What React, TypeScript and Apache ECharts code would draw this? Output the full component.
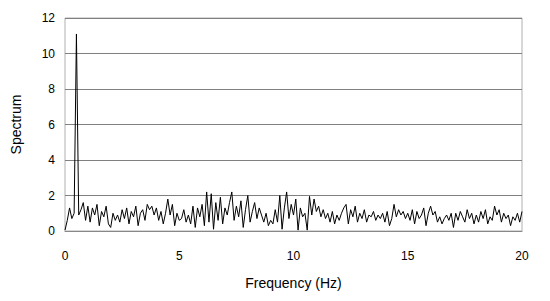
import React, { useEffect, useRef } from "react";
import * as echarts from "echarts";

// Spectrum values sampled every 0.1 Hz from 0 to 20 Hz
const step = 0.1;
const spectrum: number[] = [
  0.05, 0.6, 1.3, 0.7, 1.0, 11.1, 0.9, 1.2, 1.6, 0.6,
  1.4, 0.5, 1.3, 0.9, 1.5, 0.3, 1.1, 0.8, 1.4, 0.4,
  0.2, 1.0, 0.6, 0.9, 0.5, 1.2, 0.7, 1.3, 0.4, 1.1,
  0.8, 1.4, 0.3, 1.0, 1.2, 0.6, 1.5, 1.2, 1.4, 0.9,
  1.3, 0.6, 1.1, 0.4, 1.0, 1.8, 0.9, 1.5, 0.3, 1.0,
  0.6, 0.7, 1.2, 0.5, 0.9, 0.4, 1.4, 0.2, 1.3, 0.8,
  1.5, 0.3, 2.2, 0.5, 2.1, 0.1, 1.6, 0.6, 1.9, 0.4,
  1.3, 0.9, 1.6, 2.2, 0.6, 1.4, 0.8, 1.7, 0.2, 1.2,
  2.0, 0.5, 1.1, 1.6, 0.7, 1.3, 0.9, 0.5, 1.0, 0.3,
  0.6, 0.4, 1.2, 0.5, 2.0, 0.1, 1.3, 2.2, 0.7, 1.5,
  0.9, 1.8, 0.05, 1.3, 0.8, 1.0, 0.05, 1.95, 0.9, 1.8,
  1.1, 1.4, 0.8, 1.2, 0.7, 1.0, 0.5, 1.1, 0.4, 0.9,
  0.6, 1.0, 1.3, 1.5, 0.4, 1.2, 0.8, 1.4, 0.5, 1.0,
  0.7, 1.2, 0.5, 0.9, 0.8, 1.1, 0.6, 0.9, 0.7, 1.0,
  0.5, 1.1, 0.3, 0.7, 1.5, 0.8, 1.2, 0.9, 1.1, 0.7,
  1.0, 0.6, 1.2, 0.4, 1.1, 0.7, 0.9, 1.3, 0.3, 1.0,
  1.4, 0.9, 1.1, 0.5, 0.8, 0.4, 0.7, 0.9, 0.6, 1.0,
  0.2, 1.0, 0.6, 1.1, 0.8, 0.5, 1.2, 0.7, 1.0, 0.4,
  0.9, 0.5, 1.1, 0.7, 1.2, 0.4, 0.8, 0.6, 1.4, 0.9,
  1.2, 0.5, 1.0, 0.7, 0.9, 0.3, 0.8, 0.6, 1.0, 0.5,
  1.1,
];

const xTicks = [0, 5, 10, 15, 20];
const yTicks = [0, 2, 4, 6, 8, 10, 12];

export default function App() {
  const ref = useRef<HTMLDivElement>(null);
  useEffect(() => {
    if (!ref.current) return;
    const chart = echarts.init(ref.current, null, { renderer: "svg" });
    const data = spectrum.map((v, i) => [Number((i * step).toFixed(2)), v]);
    chart.setOption({
      animation: false,
      backgroundColor: "#ffffff",
      textStyle: { fontFamily: "Liberation Sans, Arial, sans-serif" },
      grid: {
        left: 65,
        right: 28,
        top: 18,
        bottom: 70,
        show: true,
        borderColor: "#b0b0b0",
        borderWidth: 1,
      },
      xAxis: {
        type: "value",
        min: xTicks[0],
        max: xTicks[xTicks.length - 1],
        interval: 5,
        name: "Frequency (Hz)",
        nameLocation: "middle",
        nameGap: 45,
        nameTextStyle: { fontSize: 14, color: "#000" },
        axisLine: { show: true, lineStyle: { color: "#888" } },
        axisTick: { show: false },
        axisLabel: { color: "#000", fontSize: 12, margin: 19 },
        splitLine: { show: false },
      },
      yAxis: {
        type: "value",
        min: yTicks[0],
        max: yTicks[yTicks.length - 1],
        interval: 2,
        name: "Spectrum",
        nameLocation: "middle",
        nameGap: 42,
        nameTextStyle: { fontSize: 14, color: "#000" },
        axisLine: { show: false },
        axisTick: { show: false },
        axisLabel: { color: "#000", fontSize: 12, margin: 10 },
        splitLine: { show: true, lineStyle: { color: "#808080", width: 1 } },
      },
      series: [
        {
          type: "line",
          data,
          showSymbol: false,
          symbol: "none",
          lineStyle: { color: "#000", width: 1 },
        },
      ],
    });
    return () => chart.dispose();
  }, []);
  return (
    <div
      ref={ref}
      style={{ position: "absolute", left: 0, top: 0, width: 550, height: 301 }}
    />
  );
}
